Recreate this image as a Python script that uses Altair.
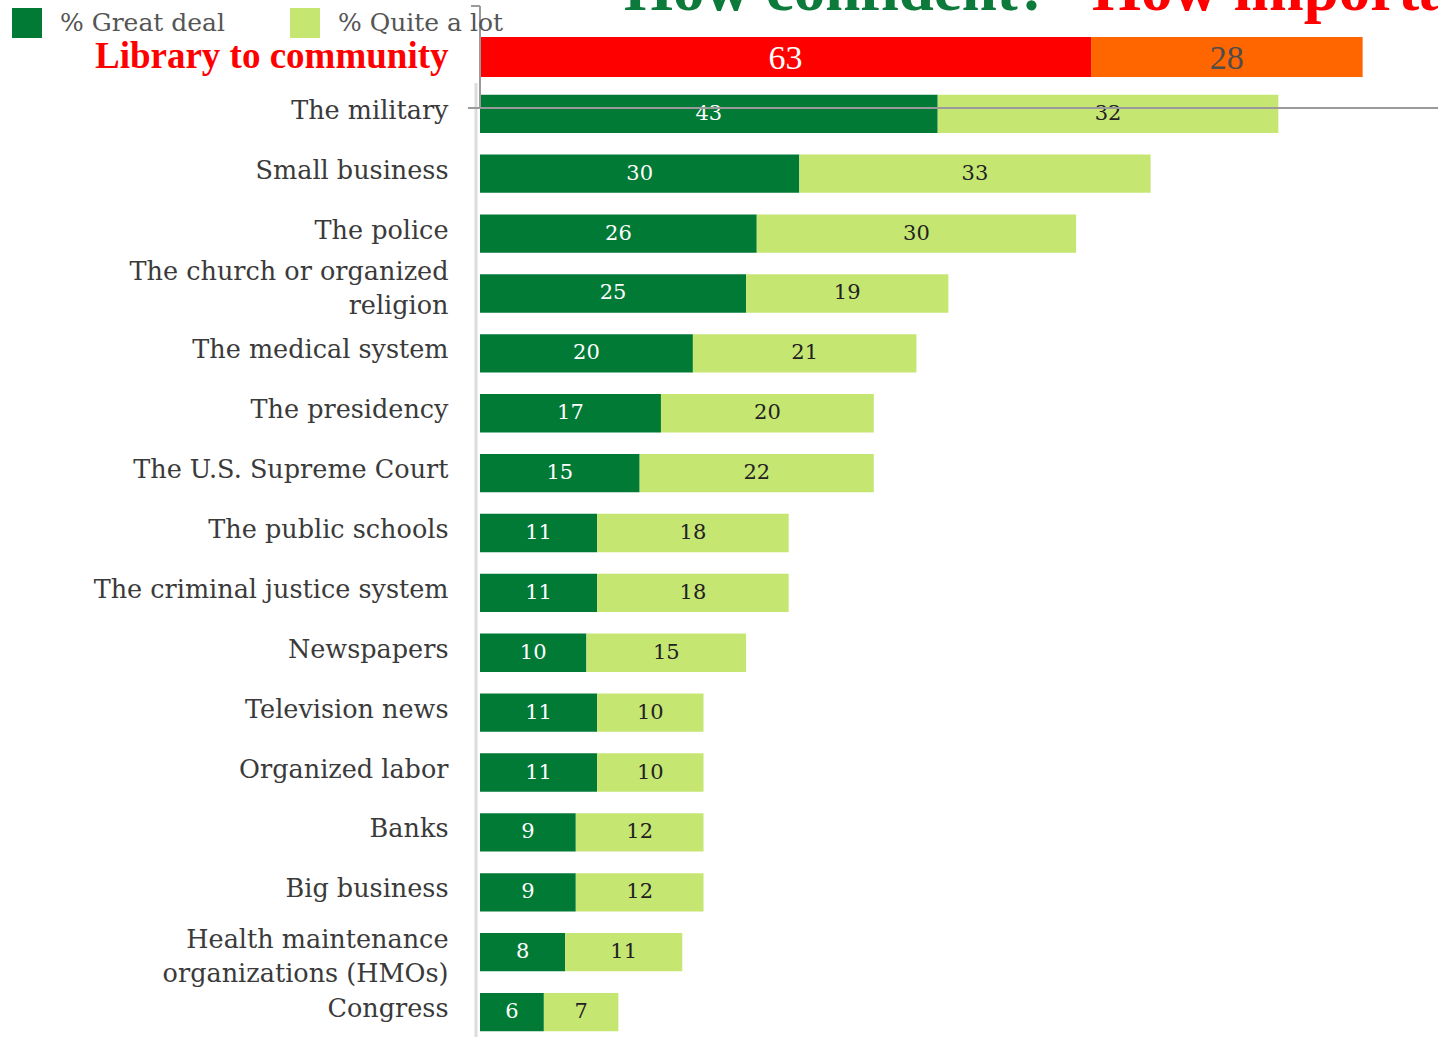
import altair as alt
import pandas as pd

# ---- data ----
categories = [
    "The military", "Small business", "The police",
    "The church or organized\nreligion", "The medical system", "The presidency",
    "The U.S. Supreme Court", "The public schools", "The criminal justice system",
    "Newspapers", "Television news", "Organized labor", "Banks", "Big business",
    "Health maintenance\norganizations (HMOs)", "Congress",
]
great_deal = [43, 30, 26, 25, 20, 17, 15, 11, 11, 10, 11, 11, 9, 9, 8, 6]
quite_a_lot = [32, 33, 30, 19, 21, 20, 22, 18, 18, 15, 10, 10, 12, 12, 11, 7]
series_names = ["% Great deal", "% Quite a lot"]

library_label = "Library to community"
library_parts = ["Very important", "Somewhat important"]
library_values = [63, 28]

title_confident = "How confident?"
title_important = "How important"

rows = [library_label] + categories

# ---- tables ----
recs = []
for c, g, q in zip(categories, great_deal, quite_a_lot):
    recs.append({"row": c, "series": series_names[0], "value": g, "start": 0, "end": g})
    recs.append({"row": c, "series": series_names[1], "value": q, "start": g, "end": g + q})
main_df = pd.DataFrame(recs)
main_df["mid"] = (main_df["start"] + main_df["end"]) / 2

lrecs = []
acc = 0
for p, v in zip(library_parts, library_values):
    lrecs.append({"row": library_label, "part": p, "value": v, "start": acc, "end": acc + v})
    acc += v
lib_df = pd.DataFrame(lrecs)
lib_df["mid"] = (lib_df["start"] + lib_df["end"]) / 2

DARK = "#017a36"
LIGHT = "#c6e672"
RED = "#ff0000"
ORANGE = "#ff6600"

test = f"datum.value == '{library_label}'"
label_offset = {
    "condition": [
        {"test": test, "value": 3},
        {"test": f"datum.value == '{categories[3]}'".replace("\n", "\\n"), "value": -21},
        {"test": f"datum.value == '{categories[14]}'".replace("\n", "\\n"), "value": -12},
    ],
    "value": -3,
}
y_axis = alt.Axis(
    title=None, domain=False, ticks=False, grid=False,
    labelPadding=32, labelLimit=600,
    labelOffset=label_offset,
    labelExpr="split(datum.label, '\\n')", labelLineHeight=34,
    labelFont=alt.condition(test, alt.value("Liberation Serif"), alt.value("DejaVu Serif")),
    labelFontSize=alt.condition(test, alt.value(37), alt.value(25.5)),
    labelFontWeight=alt.condition(test, alt.value("bold"), alt.value("normal")),
    labelColor=alt.condition(test, alt.value(RED), alt.value("#3a3a3a")),
)
y_enc = alt.Y(
    "row:N", sort=rows,
    scale=alt.Scale(domain=rows, range=[0, 1018], paddingInner=0.36, paddingOuter=0.18),
    axis=y_axis,
)

# ---- main bars ----
xs_main = alt.Scale(domain=[0, 90], nice=False, zero=True)
main_base = alt.Chart(main_df)
main_bars = main_base.mark_bar().encode(
    y=y_enc,
    x=alt.X("start:Q", scale=xs_main, axis=None),
    x2="end:Q",
    color=alt.Color(
        "series:N",
        scale=alt.Scale(domain=series_names, range=[DARK, LIGHT]),
        legend=alt.Legend(
            title=None, orient="none", direction="horizontal",
            legendX=-468, legendY=-16, padding=0,
            symbolType="square", symbolSize=900, symbolStrokeWidth=0, symbolOpacity=1,
            labelFont="DejaVu Serif", labelFontSize=25, labelColor="#555555",
            labelOffset=18, columnPadding=64, labelLimit=400,
        ),
    ),
)
main_text = main_base.mark_text(
    font="DejaVu Serif", fontSize=21, baseline="middle", align="center"
).encode(
    y=y_enc,
    x=alt.X("mid:Q", scale=xs_main, axis=None),
    text="value:Q",
    color=alt.condition(f"datum.series == '{series_names[0]}'", alt.value("white"), alt.value("#222222")),
)
main_layer = alt.layer(main_bars, main_text)

# ---- library bar ----
xs_lib = alt.Scale(domain=[0, 98.77], nice=False, zero=True)
lib_base = alt.Chart(lib_df)
lib_bars = lib_base.mark_bar(height=40, yOffset=3).encode(
    y=y_enc,
    x=alt.X("start:Q", scale=xs_lib, axis=None),
    x2="end:Q",
    color=alt.Color("part:N", scale=alt.Scale(domain=library_parts, range=[RED, ORANGE]), legend=None),
)
lib_text = lib_base.mark_text(
    font="Liberation Serif", fontSize=34, baseline="middle", align="center", dy=5
).encode(
    y=y_enc,
    x=alt.X("mid:Q", scale=xs_lib, axis=None),
    text="value:Q",
    color=alt.condition(f"datum.part == '{library_parts[0]}'", alt.value("white"), alt.value("#4d4d4d")),
)
lib_layer = alt.layer(lib_bars, lib_text)

# ---- decorations ----
one = alt.Chart(pd.DataFrame({"k": [0]}))
axis_rule = one.mark_rule(color="#dcdcdc", strokeWidth=3).encode(
    x=alt.value(-4), y=alt.value(59), y2=alt.value(1013)
)
v_line = one.mark_rule(color="#9a9a9a", strokeWidth=2).encode(
    x=alt.value(0), y=alt.value(-18), y2=alt.value(84)
)
top_tick = one.mark_rule(color="#9a9a9a", strokeWidth=2).encode(
    x=alt.value(-9), x2=alt.value(0), y=alt.value(-18)
)
h_line = one.mark_rule(color="#9a9a9a", strokeWidth=2).encode(
    x=alt.value(-12), x2=alt.value(958), y=alt.value(84)
)
t1 = alt.Chart(pd.DataFrame({"t": [title_confident]})).mark_text(
    font="Liberation Serif", fontSize=63, fontWeight="bold", color="#0b7a3a",
    align="left", baseline="alphabetic"
).encode(text="t:N", x=alt.value(144), y=alt.value(-14))
t2 = alt.Chart(pd.DataFrame({"t": [title_important]})).mark_text(
    font="Liberation Serif", fontSize=63, fontWeight="bold", color=RED,
    align="left", baseline="alphabetic"
).encode(text="t:N", x=alt.value(612), y=alt.value(-14))

chart = alt.layer(
    axis_rule, lib_layer, main_layer, v_line, top_tick, h_line, t1, t2
).resolve_scale(
    x="independent", color="independent"
).properties(
    width=958, height=1013,
    autosize=alt.AutoSizeParams(type="none"),
    padding={"left": 480, "top": 24, "right": 0, "bottom": 0},
).configure_view(stroke=None)

chart.save("out.html", embed_options={"renderer": "svg", "actions": False})
